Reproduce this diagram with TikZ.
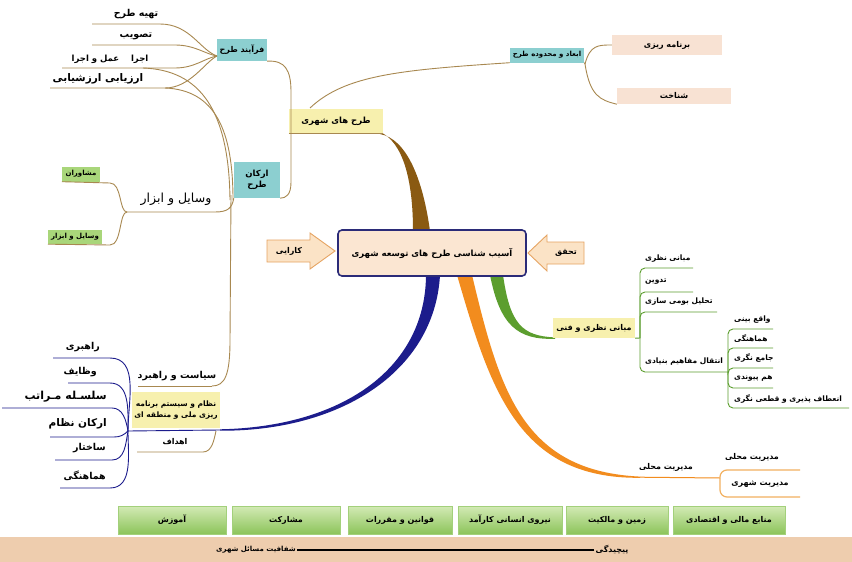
\documentclass[tikz,border=0pt]{standalone}
\usepackage{fontspec}
\newfontfamily\arabicfont[Script=Arabic]{DejaVu Sans}
\TeXXeTstate=1
\newcommand{\fa}[1]{{\arabicfont\beginR #1\endR}}
\newcommand{\fs}[1]{\fontsize{#1}{#1}\selectfont}
\definecolor{brownB}{HTML}{8A5A12}
\definecolor{tanL}{HTML}{A88850}
\definecolor{navyB}{HTML}{1C1C8C}
\definecolor{orangeB}{HTML}{F28C1E}
\definecolor{orangeL}{HTML}{F2B060}
\definecolor{greenB}{HTML}{5C9E2E}
\definecolor{tealF}{HTML}{8CCFD0}
\definecolor{yellowF}{HTML}{F7F0AE}
\definecolor{peachF}{HTML}{F8E2D3}
\definecolor{bandF}{HTML}{EECDAE}
\definecolor{leafG}{HTML}{A9D67A}
\definecolor{boxGtop}{HTML}{D3EAB5}
\definecolor{boxGbot}{HTML}{8CC45A}
\definecolor{arrowF}{HTML}{FBE3C6}
\definecolor{arrowD}{HTML}{E6A462}
\definecolor{centerF}{HTML}{FBE6D2}
\definecolor{centerD}{HTML}{2B2B78}
\tikzset{
  lbl/.style={font=\fs{8.5}\bfseries, inner sep=1pt, text=black},
  glbl/.style={lbl, font=\fs{7.5}\bfseries, anchor=west},
  tbox/.style={lbl, fill=tealF},
  ybox/.style={lbl, fill=yellowF},
  pbox/.style={lbl, fill=peachF},
  leaf/.style={lbl, fill=leafG},
  gbox/.style={lbl, font=\fs{8}\bfseries, top color=boxGtop, bottom color=boxGbot, draw=boxGbot!80!white, line width=0.4pt},
  tline/.style={draw=tanL, line width=0.9pt},
  bline/.style={draw=navyB, line width=0.9pt},
  gline/.style={draw=greenB, line width=0.9pt},
  oline/.style={draw=orangeB, line width=1pt},
}
\begin{document}
\begin{tikzpicture}[x=1pt,y=-1pt]
\useasboundingbox (0,0) rectangle (852,562);
\fill[white] (0,0) rectangle (852,562);

% ---------- bottom band and boxes ----------
\fill[bandF] (0,537) rectangle (852,562);
\node[lbl, font=\fs{8}\bfseries] (pich) at (612,550) {\fa{پیچیدگی}};
\node[lbl, font=\fs{7}\bfseries] (shaf) at (256,550) {\fa{شفافیت مسائل شهری}};
\draw[line width=1.4pt] (pich.west) -- (shaf.east);

\node[gbox, minimum width=108, minimum height=28] (b1) at (172,520) {\fa{آموزش}};
\node[gbox, minimum width=108, minimum height=28] (b2) at (286,520) {\fa{مشارکت}};
\node[gbox, minimum width=104, minimum height=28] (b3) at (400,520) {\fa{قوانین و مقررات}};
\node[gbox, minimum width=104, minimum height=28] (b4) at (510,520) {\fa{نیروی انسانی کارآمد}};
\node[gbox, minimum width=102, minimum height=28] (b5) at (617,520) {\fa{زمین و مالکیت}};
\node[gbox, minimum width=112, minimum height=28] (b6) at (729,520) {\fa{منابع مالی و اقتصادی}};

% ---------- thick branches ----------
\fill[brownB] (413,231) .. controls (413,180) and (403,142) .. (380,132)
  -- (380,134) .. controls (407,139) and (423,180) .. (430,231) -- cycle;
\fill[navyB] (426,275) .. controls (425.5,370) and (340,427) .. (220,429.3)
  -- (220,430.7) .. controls (340,431.5) and (434.5,372) .. (440,275) -- cycle;
\fill[orangeB] (457,275) .. controls (490.5,390) and (518,479) .. (640,477.8)
  -- (640,476.6) .. controls (522,471) and (499.5,390) .. (472,275) -- cycle;
\fill[greenB] (490,275) .. controls (500,326) and (518,340) .. (555,338.8)
  -- (555,337.4) .. controls (522,336) and (510,324) .. (503,275) -- cycle;

% ---------- centre ----------
\node[draw=centerD, line width=1.6pt, fill=centerF, rounded corners=4pt,
      minimum width=188, minimum height=46, font=\fs{8.5}\bfseries] (center) at (432,253)
      {\fa{آسیب شناسی طرح های توسعه شهری}};

\fill[arrowF, draw=arrowD, line width=0.9pt] (267,240) -- (310,240) -- (310,233) -- (335,251)
  -- (310,269) -- (310,262) -- (267,262) -- cycle;
\node[lbl, font=\fs{8}\bfseries] (karaei) at (289,251) {\fa{کارایی}};
\fill[arrowF, draw=arrowD, line width=0.9pt] (584,242) -- (547,242) -- (547,235) -- (528,253)
  -- (547,271) -- (547,264) -- (584,264) -- cycle;
\node[lbl, font=\fs{8}\bfseries] (tahaghogh) at (566,253) {\fa{تحقق}};

% ---------- brown side ----------
\node[ybox, minimum width=94, minimum height=25, font=\fs{8.5}\bfseries] (tarhha) at (336,121) {\fa{طرح های شهری}};
\draw[tline] (tarhha.south west) -- (tarhha.south east);

\node[tbox, minimum width=50, minimum height=22, font=\fs{8}\bfseries] (farayand) at (242,50) {\fa{فرآیند طرح}};
\node[tbox, minimum width=46, minimum height=36, align=center] (arkan) at (257,180) {\fa{ارکان}\\[2pt]\fa{طرح}};
\node[tbox, minimum width=74, minimum height=15, font=\fs{7}\bfseries] (abad) at (547,55) {\fa{ابعاد و محدوده طرح}};
\node[pbox, minimum width=110, minimum height=20, font=\fs{8}\bfseries] (barname) at (667,45) {\fa{برنامه ریزی}};
\node[pbox, minimum width=114, minimum height=16, font=\fs{8}\bfseries] (shenakht) at (674,96) {\fa{شناخت}};

\draw[tline] (farayand.south east) .. controls (285,60) and (291,70) .. (291,92) -- (291,182)
  .. controls (291,195) and (286,198) .. (arkan.south east);
\draw[tline] (310,108) .. controls (345,75) and (400,70) .. (abad.south west);
\coordinate (ja) at (585,64);
\draw[tline] (abad.south east) -- (ja);
\draw[tline] (ja) .. controls (590,45) and (598,45) .. (barname.west);
\draw[tline] (ja) .. controls (590,96) and (600,100) .. (shenakht.south west);

% process children
\coordinate (jf) at (217,56);
\node[lbl, font=\fs{9.5}\bfseries] (p1) at (136,14) {\fa{تهیه طرح}};
\node[lbl, font=\fs{9.5}\bfseries] (p2) at (136,36) {\fa{تصویب}};
\node[lbl, font=\fs{8.5}\bfseries] (p3) at (110,59) {\fa{اجرا ~~ عمل و اجرا}};
\node[lbl, font=\fs{10.5}\bfseries] (p4) at (98,79) {\fa{ارزیابی ارزشیابی}};
\draw[tline] (92,24) -- (160,24) .. controls (190,24) and (200,50) .. (jf);
\draw[tline] (92,45) -- (175,45) .. controls (195,45) and (205,54) .. (jf);
\draw[tline] (62,68) -- (175,68) .. controls (195,68) and (205,58) .. (jf);
\draw[tline] (50,88) -- (165,88) .. controls (190,88) and (205,62) .. (jf);
\draw[tline] (143,68) .. controls (200,70) and (229,110) .. (230,200);
\draw[tline] (165,88) .. controls (215,90) and (233,130) .. (233,200);
\coordinate (js) at (212,386);
\draw[tline] (231,195) -- (230,340) .. controls (230,375) and (225,386) .. (js);

% tools
\node[lbl, font=\fs{12.5}] (vasayel) at (176,199) {\fa{وسایل و ابزار}};
\coordinate (jv) at (127,212);
\draw[tline] (arkan.south west) .. controls (232,208) and (228,212) .. (215,212) -- (jv);
\node[leaf, minimum width=38, minimum height=15, font=\fs{7}\bfseries] (moshaver) at (81,174) {\fa{مشاوران}};
\node[leaf, minimum width=54, minimum height=14, font=\fs{7}\bfseries] (vasayel2) at (75,237) {\fa{وسایل و ابزار}};
\draw[tline] (jv) .. controls (119,212) and (122,183) .. (110,183) -- (moshaver.south west);
\draw[tline] (jv) .. controls (119,212) and (122,245) .. (110,245) -- (vasayel2.south west);

% ---------- blue side ----------
\node[ybox, minimum width=88, minimum height=36, align=center, font=\fs{7.5}\bfseries] (nezam) at (176,410)
  {\fa{نظام و سیستم برنامه}\\[3pt]\fa{ریزی ملی و منطقه ای}};
\coordinate (jb) at (128,431);
\draw[bline] (jb) -- (220,430);
\node[lbl, font=\fs{9.5}\bfseries] (siasat) at (177,376) {\fa{سیاست و راهبرد}};
\draw[tline] (138,386) -- (js);
\node[lbl, font=\fs{8}\bfseries] (ahdaf) at (175,442) {\fa{اهداف}};
\draw[tline] (137,452) -- (203,452) .. controls (212,452) and (214,440) .. (216,431);

\node[lbl, anchor=east, font=\fs{9.5}\bfseries] (c1) at (101,347) {\fa{راهبری}};
\node[lbl, anchor=east, font=\fs{9.5}\bfseries] (c2) at (98,372) {\fa{وظایف}};
\node[lbl, anchor=east, font=\fs{11}\bfseries] (c3) at (108,397) {\fa{سلسـله مـراتب}};
\node[lbl, anchor=east, font=\fs{10.5}\bfseries] (c4) at (108,424) {\fa{ارکان نظام}};
\node[lbl, anchor=east, font=\fs{9.5}\bfseries] (c5) at (107,448) {\fa{ساختار}};
\node[lbl, anchor=east, font=\fs{9.5}\bfseries] (c6) at (107,476) {\fa{هماهنگی}};
\draw[bline] (53,358) -- (110,358) to[out=0,in=90] (jb);
\draw[bline] (68,383) -- (110,383) to[out=0,in=90] (jb);
\draw[bline] (2,408) -- (112,408) to[out=0,in=100] (jb);
\draw[bline] (50,437) -- (114,437) to[out=0,in=225] (jb);
\draw[bline] (55,460) -- (112,460) to[out=0,in=260] (jb);
\draw[bline] (60,488) -- (110,488) to[out=0,in=270] (jb);

% ---------- green side ----------
\node[ybox, minimum width=82, minimum height=20, font=\fs{8}\bfseries] (mabani) at (594,328) {\fa{مبانی نظری و فنی}};
\coordinate (jg) at (640,338);
\draw[gline] (mabani.south east) -- (jg);
\node[glbl] (g1) at (644,259) {\fa{مبانی نظری}};
\node[glbl] (g2) at (644,282) {\fa{تدوین}};
\node[glbl] (g3) at (644,302) {\fa{تحلیل بومی سازی}};
\node[glbl] (g4) at (644,362) {\fa{انتقال مفاهیم بنیادی}};
\draw[gline, rounded corners=5pt] (jg) |- (693,268);
\draw[gline, rounded corners=5pt] (jg) |- (693,292);
\draw[gline, rounded corners=5pt] (jg) |- (717,312);
\coordinate (jg2) at (728,372);
\draw[gline, rounded corners=5pt] (jg) |- (jg2);
\node[glbl] (h1) at (733,320) {\fa{واقع بینی}};
\node[glbl] (h2) at (733,339) {\fa{هماهنگی}};
\node[glbl] (h3) at (733,358) {\fa{جامع نگری}};
\node[glbl] (h4) at (733,379) {\fa{هم پیوندی}};
\node[glbl] (h5) at (733,399) {\fa{انعطاف پذیری و قطعی نگری}};
\draw[gline, rounded corners=5pt] (jg2) |- (773,329);
\draw[gline, rounded corners=5pt] (jg2) |- (773,348);
\draw[gline, rounded corners=5pt] (jg2) |- (773,368);
\draw[gline, rounded corners=5pt] (jg2) |- (773,388);
\draw[gline, rounded corners=5pt] (jg2) |- (849,408);

% ---------- orange side ----------
\coordinate (jo) at (720,478);
\draw[oline] (640,477.2) -- (jo);
\node[lbl, font=\fs{8}\bfseries] (modir1) at (666,467) {\fa{مدیریت محلی}};
\node[lbl, font=\fs{8}\bfseries] (modir2) at (752,457) {\fa{مدیریت محلی}};
\node[lbl, font=\fs{8}\bfseries] (modir3) at (760,484) {\fa{مدیریت شهری}};
\draw[orangeL, line width=1.2pt, rounded corners=7pt] (800,470) -- (720,470) -- (720,497) -- (800,497);
\end{tikzpicture}
\end{document}
